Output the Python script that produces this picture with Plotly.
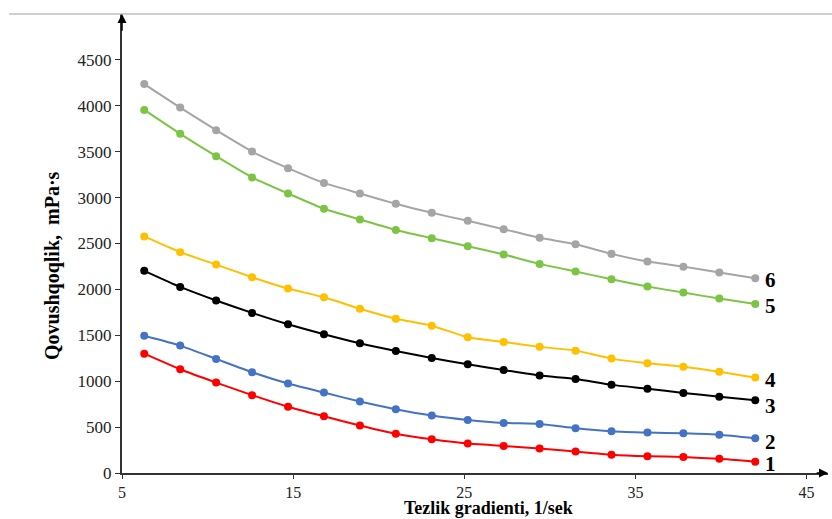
import plotly.graph_objects as go

x_vals = [6.3, 8.4, 10.5, 12.6, 14.7, 16.8, 18.9, 21.0, 23.1, 25.2, 27.3, 29.4, 31.5, 33.6, 35.7, 37.8, 39.9, 42.0]

s1 = [1300, 1130, 985, 848, 722, 618, 517, 427, 367, 320, 295, 266, 233, 200, 183, 174, 154, 123]
s2 = [1495, 1388, 1243, 1098, 975, 876, 778, 695, 626, 578, 546, 534, 488, 455, 440, 432, 418, 379]
s3 = [2202, 2027, 1879, 1744, 1620, 1512, 1413, 1329, 1253, 1184, 1122, 1061, 1024, 960, 919, 872, 831, 792]
s4 = [2577, 2406, 2270, 2133, 2009, 1914, 1790, 1681, 1605, 1478, 1427, 1374, 1333, 1246, 1196, 1158, 1104, 1040]
s5 = [3955, 3695, 3451, 3220, 3045, 2878, 2762, 2648, 2558, 2470, 2380, 2278, 2195, 2111, 2031, 1965, 1900, 1842]
s6 = [4237, 3981, 3734, 3502, 3321, 3160, 3045, 2932, 2834, 2747, 2656, 2562, 2492, 2387, 2303, 2248, 2183, 2122]

series_labels = ["1", "2", "3", "4", "5", "6"]
series_colors = ["#FF0000", "#4472C4", "#000000", "#FFC000", "#7CC544", "#A5A5A5"]
label_yshift = [-2, -4, -6, -2, -2, -2]

x_ticks = [5, 15, 25, 35, 45]
y_ticks = [0, 500, 1000, 1500, 2000, 2500, 3000, 3500, 4000, 4500]

x_title = "Tezlik gradienti, 1/sek"
y_title = "Qovushqoqlik,  mPa·s"

font_family = "Liberation Serif, Times New Roman, serif"

fig = go.Figure()
all_series = [s1, s2, s3, s4, s5, s6]
for vals, lab, col in zip(all_series, series_labels, series_colors):
    fig.add_trace(go.Scatter(
        x=x_vals, y=vals, mode="lines+markers", name=lab,
        line=dict(color=col, width=2, shape="spline", smoothing=0.5),
        marker=dict(color=col, size=8),
        showlegend=False,
    ))

for vals, lab, ys in zip(all_series, series_labels, label_yshift):
    fig.add_annotation(
        x=x_vals[-1], y=vals[-1], text="<b>" + lab + "</b>", showarrow=False,
        xanchor="left", yanchor="middle", xshift=8, yshift=ys,
        font=dict(family=font_family, size=21, color="#000000"),
    )

# axis titles
fig.add_annotation(x=0.519, y=-0.077, xref="paper", yref="paper", text="<b>" + x_title + "</b>",
                   showarrow=False, xanchor="center", yanchor="middle",
                   font=dict(family=font_family, size=18, color="#000000"))
fig.add_annotation(x=-0.0977, y=0.451, xref="paper", yref="paper", text="<b>" + y_title + "</b>",
                   showarrow=False, xanchor="center", yanchor="middle", textangle=-90,
                   font=dict(family=font_family, size=20, color="#000000"))

# axis arrows
fig.add_annotation(x=5, y=5000, ax=5, ay=4800, xref="x", yref="y", axref="x", ayref="y",
                   showarrow=True, arrowhead=2, arrowsize=1.2, arrowwidth=1.5, arrowcolor="#000000", text="")
fig.add_annotation(x=46.25, y=0, ax=45.5, ay=0, xref="x", yref="y", axref="x", ayref="y",
                   showarrow=True, arrowhead=2, arrowsize=1.2, arrowwidth=1.5, arrowcolor="#000000", text="")

# top light border line
fig.add_shape(type="line", xref="paper", yref="paper", x0=-0.16, x1=1.01, y0=1.0, y1=1.0,
              line=dict(color="#BFBFBF", width=1.5))

fig.update_layout(
    width=832, height=519,
    margin=dict(l=122, r=4, t=14, b=46, autoexpand=False),
    paper_bgcolor="white", plot_bgcolor="white",
    font=dict(family=font_family, size=17, color="#222222"),
    xaxis=dict(
        range=[5, 46.25], tickvals=x_ticks, showgrid=False, zeroline=False,
        showline=True, linecolor="#333333", linewidth=2,
        ticks="outside", ticklen=4, tickcolor="#333333", automargin=False,
        tickfont=dict(family=font_family, size=16, color="#222222"),
    ),
    yaxis=dict(
        range=[0, 5000], tickvals=y_ticks, showgrid=False, zeroline=False,
        showline=True, linecolor="#333333", linewidth=2,
        ticks="outside", ticklen=5, tickcolor="#333333", automargin=False,
        tickfont=dict(family=font_family, size=17, color="#222222"),
    ),
)

fig.write_html("out.html", config={"displayModeBar": False},
               post_script="document.body.style.margin='0';")
